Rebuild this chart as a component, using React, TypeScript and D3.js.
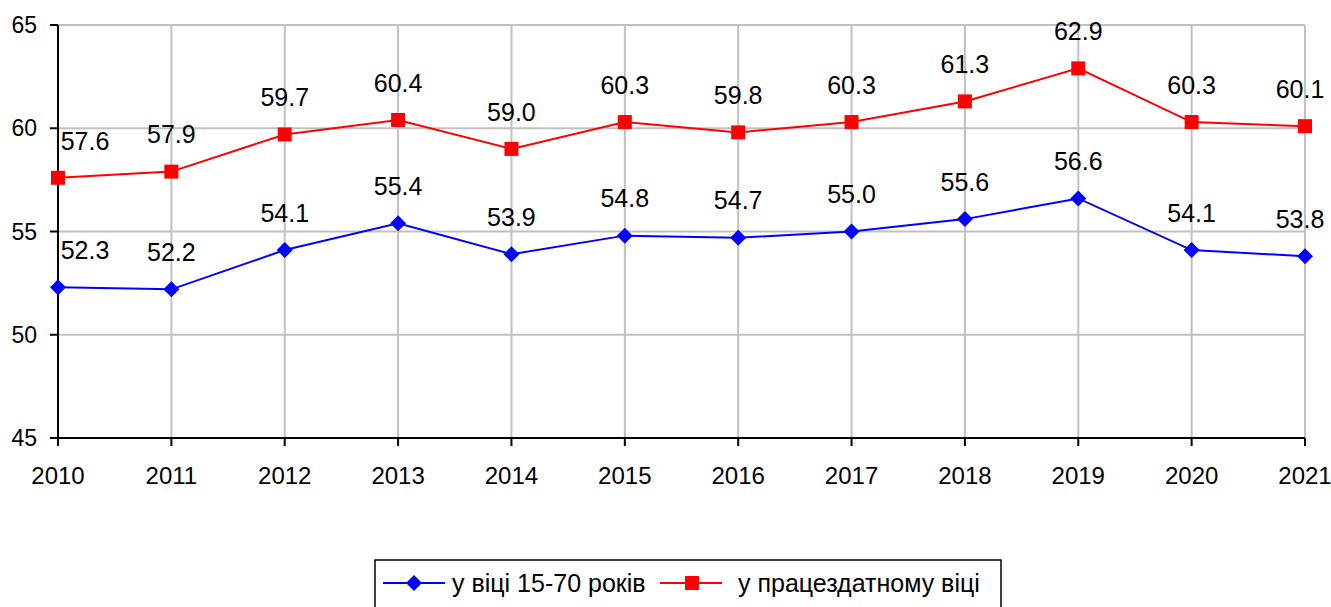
import * as d3 from "d3";
import React from "react";

const years = ["2010", "2011", "2012", "2013", "2014", "2015", "2016", "2017", "2018", "2019", "2020", "2021"];
const age1570 = [52.3, 52.2, 54.1, 55.4, 53.9, 54.8, 54.7, 55.0, 55.6, 56.6, 54.1, 53.8];
const workingAge = [57.6, 57.9, 59.7, 60.4, 59.0, 60.3, 59.8, 60.3, 61.3, 62.9, 60.3, 60.1];
const yTicks = [45, 50, 55, 60, 65];
const seriesNames = ["у віці 15-70 років", "у працездатному віці"];

const W = 1331, H = 607;
const margin = { top: 25, right: 26, bottom: 169, left: 58 };
const font = "'Liberation Sans', Arial, sans-serif";

const App = () => {
  const x = d3.scalePoint<string>().domain(years).range([margin.left, W - margin.right]);
  const y = d3.scaleLinear().domain([45, 65]).range([H - margin.bottom, margin.top]);
  const line = d3.line<number>().x((_, i) => x(years[i])!).y(d => y(d));

  const x0 = margin.left, x1 = W - margin.right;
  const yb = y(45);

  // keep labels inside the plot like Excel does
  const labelX = (i: number) => Math.min(Math.max(x(years[i])!, x0 + 27), x1 - 5);

  const diamond = (cx: number, cy: number, r: number) =>
    `M${cx},${cy - r}L${cx + r},${cy}L${cx},${cy + r}L${cx - r},${cy}Z`;

  return (
    <svg width={W} height={H} style={{ position: "absolute", left: 0, top: 0 }} fontFamily={font}>
      <rect width={W} height={H} fill="#fff" />
      {/* grid */}
      {yTicks.filter(t => t !== 45).map(t => (
        <line key={"gy" + t} x1={x0} x2={x1} y1={y(t)} y2={y(t)} stroke="#c0c0c0" strokeWidth={2} />
      ))}
      {years.slice(1).map(yr => (
        <line key={"gx" + yr} x1={x(yr)} x2={x(yr)} y1={margin.top} y2={yb} stroke="#c0c0c0" strokeWidth={2} />
      ))}
      {/* axes */}
      <line x1={x0} x2={x0} y1={margin.top} y2={yb} stroke="#000" strokeWidth={2} />
      <line x1={x0} x2={x1} y1={yb} y2={yb} stroke="#000" strokeWidth={2} />
      {yTicks.map(t => (
        <g key={"ty" + t}>
          <line x1={x0 - 8} x2={x0} y1={y(t)} y2={y(t)} stroke="#000" strokeWidth={2} />
          <text x={x0 - 21} y={y(t)} dy="0.35em" textAnchor="end" fontSize={23}>{t}</text>
        </g>
      ))}
      {years.map(yr => (
        <g key={"tx" + yr}>
          <line x1={x(yr)} x2={x(yr)} y1={yb} y2={yb + 8} stroke="#000" strokeWidth={2} />
          <text x={x(yr)} y={yb + 38} dy="0.35em" textAnchor="middle" fontSize={24}>{yr}</text>
        </g>
      ))}
      {/* series */}
      <path d={line(workingAge)!} fill="none" stroke="#ff0000" strokeWidth={2} />
      <path d={line(age1570)!} fill="none" stroke="#0000ff" strokeWidth={2} />
      {workingAge.map((v, i) => (
        <rect key={"r" + i} x={x(years[i])! - 7} y={y(v) - 7} width={14} height={14} fill="#ff0000" />
      ))}
      {age1570.map((v, i) => (
        <path key={"b" + i} d={diamond(x(years[i])!, y(v), 8)} fill="#0000ff" />
      ))}
      {workingAge.map((v, i) => (
        <text key={"lr" + i} x={labelX(i)} y={y(v) - 37} dy="0.35em" textAnchor="middle" fontSize={25}>{v.toFixed(1)}</text>
      ))}
      {age1570.map((v, i) => (
        <text key={"lb" + i} x={labelX(i)} y={y(v) - 37} dy="0.35em" textAnchor="middle" fontSize={25}>{v.toFixed(1)}</text>
      ))}
      {/* legend */}
      <rect x={375} y={560} width={626} height={60} fill="#fff" stroke="#000" strokeWidth={1.5} />
      <line x1={383} x2={445} y1={583} y2={583} stroke="#0000ff" strokeWidth={2} />
      <path d={diamond(414, 583, 8)} fill="#0000ff" />
      <text x={452} y={583} dy="0.35em" fontSize={25}>{seriesNames[0]}</text>
      <line x1={660} x2={722} y1={583} y2={583} stroke="#ff0000" strokeWidth={2} />
      <rect x={685} y={576} width={14} height={14} fill="#ff0000" />
      <text x={738} y={583} dy="0.35em" fontSize={25}>{seriesNames[1]}</text>
    </svg>
  );
};

export default App;
